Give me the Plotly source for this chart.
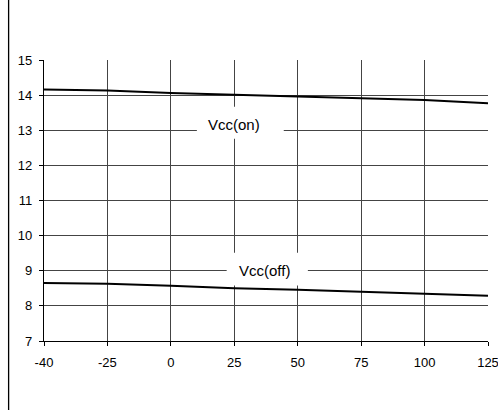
import plotly.graph_objects as go

# Junction temperature points (°C), shown as evenly spaced categories
temperature_labels = ["-40", "-25", "0", "25", "50", "75", "100", "125"]

# Supply threshold voltages (V)
vcc_on = [14.16, 14.13, 14.06, 14.00, 13.96, 13.91, 13.86, 13.77]
vcc_off = [8.65, 8.63, 8.57, 8.50, 8.46, 8.40, 8.35, 8.29]

y_ticks = [7, 8, 9, 10, 11, 12, 13, 14, 15]

FONT = "Liberation Sans, Arial, Helvetica, sans-serif"
GRID = "#444444"

positions = list(range(len(temperature_labels)))

fig = go.Figure()
for name, values in (("Vcc(on)", vcc_on), ("Vcc(off)", vcc_off)):
    fig.add_trace(go.Scatter(
        x=positions, y=values, mode="lines", name=name,
        line=dict(color="black", width=2), showlegend=False,
        hoverinfo="skip",
    ))

# White label boxes that interrupt the grid, with the curve names on top
label_boxes = [
    dict(x0=2.41, x1=3.78, y0=12.76, y1=13.67),
    dict(x0=2.88, x1=4.16, y0=8.58, y1=9.51),
]
for box in label_boxes:
    fig.add_shape(type="rect", xref="x", yref="y", layer="between",
                  fillcolor="white", line=dict(width=0), **box)

fig.add_annotation(x=3.0, y=13.17, text="Vcc(on)", showarrow=False,
                   font=dict(family=FONT, size=15, color="black"))
fig.add_annotation(x=3.47, y=9.02, text="Vcc(off)", showarrow=False,
                   font=dict(family=FONT, size=15, color="black"))

# Frame line running down the left side of the page
fig.add_shape(type="line", xref="paper", yref="paper",
              x0=-0.0797, x1=-0.0797, y0=-0.26, y1=1.23,
              line=dict(color="black", width=1.3))

fig.update_xaxes(
    range=[0, 7], tickvals=positions, ticktext=temperature_labels,
    showgrid=True, gridcolor=GRID, gridwidth=1,
    showline=True, linecolor="black", linewidth=1.3,
    ticks="outside", ticklen=4, tickcolor="black",
    ticklabelstandoff=5, ticklabeloverflow="allow", zeroline=False,
    automargin=False,
    tickfont=dict(family=FONT, size=13, color="black"),
)
fig.update_yaxes(
    range=[7, 15], tickvals=y_ticks,
    showgrid=True, gridcolor=GRID, gridwidth=1,
    showline=True, linecolor="black", linewidth=1.3,
    ticks="outside", ticklen=4, tickcolor="black",
    ticklabelstandoff=4, ticklabeloverflow="allow", zeroline=False,
    automargin=False,
    tickfont=dict(family=FONT, size=13, color="black"),
)

fig.update_layout(
    width=498, height=410,
    margin=dict(l=44, r=10, t=60, b=69),
    plot_bgcolor="white", paper_bgcolor="white",
    font=dict(family=FONT, color="black"),
)

fig.write_html("out.html")
